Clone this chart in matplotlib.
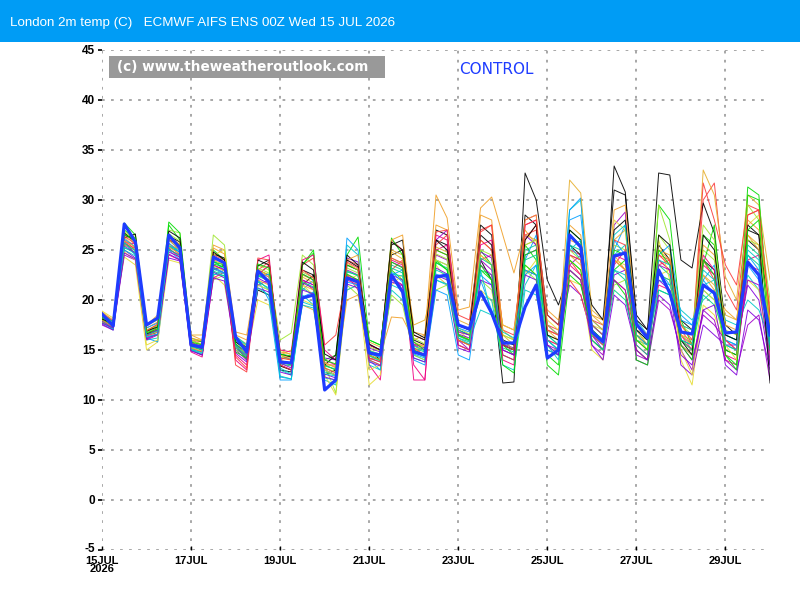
import matplotlib
matplotlib.use("Agg")
import matplotlib.pyplot as plt
from matplotlib.patches import Rectangle
from matplotlib.transforms import ScaledTranslation
import numpy as np

# ---------------- data ----------------
step_hours = 6
n_steps = 61
tick_days = [0, 2, 4, 6, 8, 10, 12, 14]
tick_labels = ["15JUL\n2026", "17JUL", "19JUL", "21JUL", "23JUL", "25JUL", "27JUL", "29JUL"]
y_ticks = [-5, 0, 5, 10, 15, 20, 25, 30, 35, 40, 45]

control = [18.6,17.4,27.6,25.8, 17.5,18.2,26.5,25.2, 15.5,15.3,24.3,23.7, 16.3,14.8,22.9,21.8,
           13.8,13.7,20.2,20.5, 11.0,12.0,22.2,21.8, 14.7,14.5,22.5,20.8, 14.8,14.5,22.3,22.5,
           17.5,17.1,20.8,18.7, 15.7,15.7,19.3,21.5, 14.2,15.0,26.5,25.3, 16.8,15.8,24.4,24.7,
           17.6,16.2,23.0,20.7, 16.8,16.6,21.5,20.7, 16.7,16.8,23.8,22.5, 16.5]

m01 = [18.0,17.5,26.5,26.0, 16.5,17.0,26.0,25.5, 15.5,15.0,23.0,23.5, 16.0,15.0,21.0,20.5, 13.0,12.8,21.5,22.5, 12.5,13.0,23.5,23.0, 15.0,14.0,24.5,25.0, 16.0,15.5,27.0,26.5, 17.0,16.5,24.0,22.0, 11.7,11.8,32.7,30.0, 22.0,19.5,23.0,22.0, 16.5,16.0,33.4,30.8, 18.5,17.0,25.5,24.0, 18.0,17.0,24.0,23.0, 15.0,14.5,26.0,25.0, 13.5]
m02 = [18.5,17.8,26.0,25.0, 16.8,17.5,25.5,24.5, 16.0,15.8,24.5,24.0, 15.5,14.5,22.5,23.5, 14.0,14.5,22.0,21.0, 13.5,13.5,24.0,23.5, 15.5,15.0,26.0,25.0, 16.5,16.0,25.0,24.5, 16.0,15.5,27.0,27.5, 17.0,16.5,26.5,27.0, 17.5,17.0,24.0,22.5, 18.0,17.5,22.0,21.0, 16.0,15.0,24.5,24.0, 16.0,15.0,30.0,31.7, 21.0,19.0,28.5,29.0, 17.5]
m03 = [17.8,17.2,27.7,26.5, 17.0,16.5,27.5,26.0, 15.0,14.5,25.0,24.0, 15.5,14.0,23.0,22.5, 14.5,14.0,23.5,24.7, 14.0,14.5,24.5,26.3, 16.0,15.5,23.0,22.0, 15.0,14.5,24.0,23.0, 16.0,15.5,25.0,23.5, 14.5,14.0,25.5,24.0, 16.0,15.0,27.0,26.0, 17.0,16.0,22.0,20.5, 15.0,14.0,29.5,28.0, 18.0,15.5,26.5,25.5, 15.0,14.5,31.3,30.5, 17.0]
m04 = [18.3,17.5,25.5,25.0, 16.0,16.2,26.0,25.0, 15.5,15.0,24.0,23.0, 16.0,15.0,22.0,21.0, 13.0,12.5,20.5,19.5, 12.0,11.5,25.5,24.5, 14.0,13.5,21.0,20.0, 14.5,14.0,22.0,21.5, 16.5,16.0,19.0,18.5, 16.0,15.0,21.5,23.5, 16.5,15.5,29.0,30.0, 17.5,16.5,24.5,25.5, 18.0,16.5,22.0,21.5, 19.0,18.0,20.0,21.0, 16.0,15.5,22.5,21.0, 17.0]
m05 = [18.0,17.3,26.0,24.5, 16.5,17.0,24.5,24.0, 16.0,15.5,23.5,23.0, 14.0,13.0,24.0,24.5, 13.5,13.0,22.0,21.5, 14.0,13.5,22.5,22.0, 13.5,12.0,24.0,23.5, 12.0,12.0,26.5,26.0, 15.5,15.0,24.0,24.5, 14.0,13.5,28.0,28.5, 15.0,14.5,25.0,24.5, 16.0,15.0,23.5,25.0, 16.5,15.5,21.5,21.0, 15.5,14.5,23.5,22.5, 14.0,13.5,24.0,24.5, 14.5]
m06 = [18.5,17.8,24.3,23.5, 15.0,15.8,24.0,23.7, 15.5,15.0,22.5,21.5, 15.5,14.5,20.0,19.5, 15.0,14.5,20.0,19.5, 12.5,10.5,21.0,21.5, 11.5,12.5,22.5,21.0, 15.0,14.5,23.5,22.0, 17.0,16.0,21.0,20.0, 16.5,16.0,22.5,24.0, 18.0,17.0,22.0,21.5, 17.5,17.0,24.0,23.5, 16.0,15.5,22.5,23.0, 14.0,11.5,19.5,18.5, 15.5,15.0,22.0,21.0, 14.0]
m07 = [18.2,17.5,25.5,25.0, 17.0,17.5,26.0,25.0, 16.5,16.0,25.5,25.0, 16.8,16.5,23.0,22.5, 14.5,15.0,19.5,19.0, 13.0,12.5,20.0,20.5, 14.0,14.5,18.3,18.2, 16.0,16.5,30.5,28.2, 19.0,19.3,29.2,30.3, 26.5,22.7,27.0,25.5, 19.0,18.0,26.0,25.5, 18.5,18.0,24.5,23.0, 17.0,16.5,25.0,24.0, 17.5,17.0,22.5,21.0, 19.0,18.0,26.5,25.0, 19.5]
m08 = [17.5,17.0,24.5,24.0, 16.0,16.5,25.0,24.5, 15.0,14.5,23.5,23.0, 15.0,14.0,21.5,22.0, 13.5,13.0,22.0,21.5, 13.0,12.5,23.0,22.5, 14.5,14.0,22.5,22.0, 15.5,15.0,24.5,24.0, 16.0,15.0,24.0,23.0, 15.5,15.0,24.5,25.0, 17.0,16.5,23.5,24.5, 17.0,16.0,27.5,28.8, 14.0,13.5,20.0,19.0, 15.0,13.0,19.0,18.0, 14.0,13.0,17.5,18.5, 12.0]
m09 = [17.8,17.2,26.5,26.5, 17.5,18.0,27.0,26.7, 16.0,15.5,22.0,22.5, 15.0,14.5,23.5,23.0, 16.0,16.7,24.5,23.5, 13.5,10.7,21.5,20.5, 15.0,14.5,20.5,19.5, 14.5,14.0,21.0,21.5, 15.5,15.0,22.0,21.0, 15.0,14.5,23.0,22.0, 15.0,14.5,24.0,23.0, 16.5,15.5,21.5,22.0, 16.5,16.0,29.5,26.0, 15.5,14.5,25.0,24.0, 16.5,16.0,26.0,25.5, 18.5]
m10 = [18.0,17.0,25.8,24.5, 16.2,15.8,25.0,24.0, 15.0,14.8,22.5,23.0, 15.5,14.5,22.0,20.0, 12.0,12.0,21.0,22.0, 13.0,12.5,26.2,25.0, 14.0,13.0,22.5,23.0, 14.0,13.5,21.0,20.5, 14.5,14.0,22.0,19.0, 16.0,15.5,24.0,26.5, 16.0,15.0,29.0,30.2, 16.5,15.5,25.0,27.5, 17.5,16.5,23.0,21.5, 18.0,17.5,22.0,23.5, 16.5,16.0,23.5,22.0, 15.0]
m11 = [18.8,18.0,26.8,25.5, 17.5,18.5,26.5,25.5, 16.5,16.5,24.0,23.5, 16.0,15.0,23.0,22.5, 14.5,14.0,21.5,21.0, 13.5,13.0,22.5,21.5, 14.5,14.0,25.0,24.5, 17.5,18.0,22.5,21.5, 17.5,17.0,26.0,25.0, 16.5,15.5,25.5,26.0, 16.0,15.5,32.0,30.7, 19.0,18.0,26.0,27.0, 17.0,15.5,24.0,23.0, 16.0,15.0,33.0,30.5, 22.3,20.0,30.5,29.5, 22.0]
m12 = [18.4,17.6,25.2,24.8, 16.8,17.2,25.3,24.8, 15.3,15.0,23.8,23.2, 15.2,14.2,21.8,21.2, 13.6,13.4,21.2,20.5, 12.8,12.5,22.8,22.5, 14.8,14.2,23.5,23.0, 15.2,14.8,24.0,23.5, 16.2,15.8,23.0,22.5, 15.2,14.8,25.0,25.5, 15.5,14.5,26.5,25.5, 17.5,16.5,23.0,22.0, 16.5,15.5,23.5,22.5, 16.5,15.5,21.0,20.0, 15.5,15.0,25.5,24.5, 16.0]
m13 = [17.6,17.0,25.0,24.2, 16.6,17.0,24.6,24.0, 15.8,15.2,22.8,22.2, 15.6,14.6,22.2,21.6, 14.2,14.2,22.6,22.0, 14.2,14.0,24.2,23.8, 15.2,14.8,22.2,21.5, 15.6,15.2,23.2,22.6, 16.6,16.2,24.8,24.2, 15.6,15.2,26.5,25.5, 17.5,16.5,21.5,20.5, 16.5,15.0,22.5,23.0, 17.5,16.5,22.0,21.0, 13.5,12.5,17.5,16.5, 15.5,15.5,21.5,20.0, 13.5]
m14 = [18.6,17.8,26.2,26.6, 16.6,17.2,26.4,25.8, 15.6,15.2,24.6,24.2, 16.2,15.2,23.4,24.0, 13.4,13.0,23.0,22.5, 13.5,14.5,24.5,23.5, 15.5,15.0,25.5,26.0, 16.5,16.0,26.0,25.5, 17.5,17.0,27.5,26.5, 16.0,15.5,28.5,27.5, 18.5,17.5,25.5,24.5, 19.5,18.0,31.0,30.5, 18.0,17.0,32.7,32.5, 24.0,23.2,29.7,26.7, 17.5,16.5,27.0,26.5, 18.5]
m15 = [18.2,17.4,25.6,25.2, 16.4,16.8,25.6,25.0, 15.2,14.8,24.0,24.0, 13.5,12.8,23.0,23.8, 13.5,13.0,23.5,24.2, 15.5,16.5,22.5,21.0, 14.0,13.5,23.0,24.0, 15.5,15.5,25.5,26.5, 18.5,18.0,26.0,25.0, 17.5,17.0,26.0,27.5, 18.5,17.5,22.0,20.5, 16.5,15.5,24.0,23.0, 15.0,14.0,23.5,24.0, 17.0,15.5,31.7,28.0, 23.5,21.5,29.5,29.0, 18.0]
m16 = [18.0,17.4,27.0,26.2, 16.9,17.4,27.8,26.7, 16.2,15.8,23.8,23.5, 14.8,14.2,22.5,22.0, 13.8,13.5,23.5,25.0, 13.5,13.0,23.5,23.0, 14.5,14.0,26.2,24.5, 15.0,14.5,25.0,24.5, 16.5,16.0,23.0,22.0, 15.5,14.5,24.5,25.0, 14.5,13.5,24.0,23.0, 16.0,15.0,23.0,24.0, 14.0,13.5,21.0,20.5, 16.0,15.5,23.5,27.5, 14.5,13.5,30.5,30.0, 16.5]
m17 = [17.7,17.1,25.0,24.4, 16.3,16.5,25.5,24.8, 15.0,14.6,22.6,22.4, 16.3,15.4,21.5,21.0, 13.2,12.6,19.5,19.2, 12.2,12.0,21.0,21.5, 13.5,13.0,21.5,21.0, 14.2,13.8,23.0,22.5, 17.0,16.5,20.5,20.0, 13.5,13.0,21.0,20.5, 15.5,14.0,25.5,24.0, 18.0,17.0,23.0,22.5, 16.0,15.5,21.0,20.5, 17.5,17.0,21.5,22.0, 18.0,17.5,20.0,19.0, 16.0]
m18 = [18.3,17.6,25.8,25.6, 16.5,16.5,25.2,24.2, 14.8,14.3,22.2,22.8, 14.5,13.5,22.6,23.4, 15.0,14.8,24.0,24.5, 15.0,14.0,22.0,21.5, 15.5,15.0,22.0,21.5, 13.5,12.0,25.0,25.5, 15.5,15.0,25.5,26.0, 14.5,14.0,27.5,28.0, 16.0,15.5,23.5,22.5, 17.0,16.0,24.5,24.0, 15.5,14.5,24.0,23.0, 16.5,15.0,24.5,23.0, 14.5,14.0,23.5,23.0, 15.5]
m19 = [18.9,18.2,24.8,24.0, 15.5,16.0,25.5,25.0, 16.0,16.0,24.5,25.0, 15.8,15.5,21.5,21.0, 14.5,14.2,21.5,20.5, 13.0,12.5,22.0,22.5, 13.0,13.5,21.5,22.5, 15.0,15.5,24.0,23.5, 16.0,15.5,24.5,23.5, 17.5,17.0,23.5,22.5, 16.5,16.0,23.0,22.0, 15.0,14.0,28.0,27.0, 16.5,15.0,26.0,22.0, 15.0,12.5,21.0,20.0, 15.5,14.0,27.5,28.5, 18.0]
m20 = [18.5,17.7,26.3,25.2, 17.2,17.8,26.2,25.6, 16.2,15.9,25.2,24.6, 16.5,16.0,22.0,21.5, 14.8,14.6,22.5,22.0, 13.8,13.2,24.0,24.5, 14.5,14.0,26.0,26.5, 16.8,16.5,27.5,27.0, 16.5,16.0,28.5,28.0, 17.0,16.0,28.0,28.5, 17.0,16.5,27.5,26.5, 18.0,17.0,29.0,29.5, 17.5,16.5,25.0,24.5, 16.5,16.0,25.5,24.5, 17.5,17.0,28.0,27.0, 19.0]
m21 = [17.9,17.3,25.4,24.7, 16.1,16.6,24.8,24.3, 15.4,15.1,23.2,22.7, 15.3,14.3,22.8,22.3, 13.7,13.2,21.7,21.2, 12.3,12.0,22.3,22.0, 14.2,13.8,23.8,23.3, 14.8,14.5,26.0,27.0, 16.8,16.5,23.5,22.5, 15.0,14.5,23.0,22.5, 15.5,15.0,24.5,24.0, 15.5,14.5,22.0,21.0, 14.5,14.0,23.5,23.0, 15.5,14.0,18.5,17.5, 16.0,15.0,22.0,21.5, 14.0]
m22 = [18.1,17.5,26.9,26.0, 17.0,17.4,26.6,25.9, 15.9,15.6,26.5,25.5, 15.3,14.7,23.2,22.7, 14.3,14.0,22.8,22.2, 13.2,12.8,23.2,22.7, 15.3,14.9,24.2,23.6, 16.2,15.6,24.6,24.1, 17.2,16.6,25.0,24.5, 16.5,16.0,25.5,26.0, 17.5,16.5,25.0,24.0, 16.5,16.0,25.5,25.0, 16.0,15.0,26.5,25.0, 17.5,16.5,27.5,26.0, 17.0,16.5,29.5,28.0, 20.0]
m23 = [18.4,17.7,26.1,25.3, 17.2,17.7,25.7,24.7, 15.7,15.3,23.3,22.7, 15.9,14.9,22.3,22.6, 12.3,12.1,20.3,20.8, 11.2,11.8,21.8,21.5, 14.6,14.3,22.8,21.8, 14.6,14.2,22.6,22.2, 17.2,16.8,22.5,21.5, 15.5,15.0,22.5,23.5, 15.0,14.5,28.0,28.5, 17.5,16.5,26.0,24.5, 17.0,16.0,24.5,25.5, 18.5,17.5,22.0,20.5, 16.0,15.5,24.5,23.0, 15.5]
m24 = [18.0,17.3,25.9,25.3, 16.7,17.2,25.3,24.6, 15.2,14.9,23.4,22.9, 16.3,15.6,22.9,22.3, 14.0,13.6,22.3,21.7, 13.7,13.3,23.7,23.0, 15.8,15.3,24.8,24.1, 15.8,15.3,25.3,24.8, 18.0,17.5,24.5,23.5, 16.0,15.0,26.5,26.0, 17.0,16.0,24.5,23.5, 18.5,17.5,24.0,23.0, 17.5,16.5,22.5,22.0, 16.5,15.5,22.5,21.5, 18.5,18.0,26.5,25.5, 17.5]
m25 = [18.2,17.5,25.7,24.9, 16.5,16.9,25.1,24.4, 15.4,15.0,22.9,22.4, 15.4,14.4,22.4,21.9, 13.9,13.6,21.8,21.3, 13.4,13.1,22.9,22.4, 14.4,13.9,23.2,22.7, 15.4,14.9,23.7,23.2, 16.4,15.9,24.2,23.5, 15.5,15.0,24.0,24.5, 16.5,15.5,25.5,25.0, 16.0,15.0,21.0,20.0, 15.5,14.5,22.5,22.0, 16.0,15.0,20.5,19.5, 16.5,16.0,24.5,23.5, 16.5]
m26 = [17.7,17.2,24.7,24.1, 16.2,16.6,24.2,23.9, 14.9,14.5,22.2,21.9, 14.7,13.8,21.2,20.8, 12.8,12.5,21.0,20.6, 12.6,12.2,21.6,21.2, 13.8,13.4,21.8,21.4, 14.2,13.8,22.5,22.0, 15.2,14.8,22.0,21.5, 15.0,14.5,22.5,22.0, 15.5,14.5,23.0,22.0, 15.5,14.0,20.5,19.5, 15.0,14.0,20.5,19.5, 14.5,13.5,19.0,19.5, 13.5,12.5,19.0,18.0, 13.0]
m27 = [18.1,17.6,26.7,25.8, 16.9,17.3,26.9,26.2, 15.6,15.2,24.8,24.0, 15.8,15.0,24.0,23.5, 14.6,14.3,23.8,23.0, 14.6,14.0,24.0,23.3, 15.6,15.0,25.8,25.0, 16.8,16.2,26.0,25.0, 17.5,17.0,26.5,25.5, 15.5,15.0,26.0,27.5, 16.5,16.0,27.0,26.0, 17.0,16.0,27.0,28.0, 17.0,16.0,26.5,25.5, 16.0,14.5,26.5,25.0, 16.5,16.0,27.5,26.5, 11.7]
m28 = [18.7,17.9,26.4,25.6, 16.9,17.6,26.1,25.3, 15.7,15.4,24.2,23.8, 14.3,13.2,24.2,24.0, 14.2,14.0,23.0,22.2, 13.2,12.7,23.8,23.2, 14.2,13.8,24.2,23.7, 15.2,14.5,26.8,27.0, 16.0,15.5,26.8,27.5, 15.5,15.0,27.5,28.0, 17.0,16.5,24.5,24.0, 17.5,16.5,26.0,25.5, 16.5,15.5,24.5,23.5, 17.5,16.0,24.0,22.0, 16.0,15.0,28.5,29.0, 18.5]
m29 = [18.3,17.6,26.6,25.9, 16.7,17.1,26.3,25.4, 15.8,15.5,23.6,23.3, 15.6,14.8,23.6,23.2, 14.6,14.4,22.6,22.0, 14.0,13.6,22.6,22.0, 16.0,15.5,23.8,23.2, 15.8,15.0,23.8,23.0, 16.5,16.0,23.5,22.0, 13.5,12.7,23.5,22.5, 13.5,12.5,22.5,21.5, 17.0,16.0,25.0,24.5, 16.0,15.0,25.0,23.5, 15.5,14.0,24.0,22.5, 14.5,13.0,27.0,28.0, 15.0]
m30 = [18.6,17.8,25.3,24.6, 16.3,16.6,25.4,25.0, 15.1,14.7,23.1,22.6, 16.4,15.5,21.2,20.5, 12.4,12.1,19.8,19.4, 12.6,12.4,22.2,21.8, 14.9,14.6,22.6,22.4, 14.8,14.3,22.0,21.6, 16.2,15.6,23.0,18.5, 16.8,16.2,23.0,22.5, 16.0,15.0,25.0,26.0, 17.0,16.0,26.5,27.5, 16.5,15.5,24.0,23.5, 16.0,15.5,23.0,22.0, 15.5,15.0,25.0,24.0, 15.5]

members = [m01, m02, m03, m04, m05, m06, m07, m08, m09, m10, m11, m12, m13, m14, m15,
           m16, m17, m18, m19, m20, m21, m22, m23, m24, m25, m26, m27, m28, m29, m30]

member_colors = ['#000000', '#fa3c3c', '#00dc00', '#00c8c8', '#f00082', '#e6dc32',
                 '#f0a028', '#a000c8', '#a0e632', '#00a0ff', '#e6af2d', '#00d28c', '#8200dc']

title_text = "London 2m temp (C)   ECMWF AIFS ENS 00Z Wed 15 JUL 2026"
watermark = "(c) www.theweatheroutlook.com"

# ---------------- figure ----------------
fig = plt.figure(figsize=(8, 6), dpi=100)
fig.patch.set_facecolor('white')

# title bar
fig.patches.append(Rectangle((0, 1 - 42/600), 1, 42/600, transform=fig.transFigure,
                             facecolor='#009cf5', edgecolor='none', zorder=0))
fig.text(10/800, 1 - 23/600, title_text, color='white', fontsize=9.6,
         family='Liberation Sans', va='center', ha='left')

ax = fig.add_axes([102/800, 50/600, 668/800, 500/600])
x = np.arange(n_steps) * step_hours / 24.0

for i, m in enumerate(members):
    ax.plot(x, m, color=member_colors[i % len(member_colors)], lw=0.7, alpha=0.9, zorder=2)
ax.plot(x, control, color='#1e3cff', lw=2.3, zorder=4)

ax.set_xlim(0, 15)
ax.set_ylim(-5, 45)
for s in ax.spines.values():
    s.set_visible(False)

grid_kw = dict(color='#a0a0a0', lw=1.3, linestyle=(0, (1.5, 3.5)), zorder=1)
for yv in y_ticks:
    ax.axhline(yv, **grid_kw)
for d in tick_days:
    ax.axvline(d, **grid_kw)

ax.set_yticks(y_ticks)
ax.set_yticklabels([str(v) for v in y_ticks], fontsize=8.5, fontweight='bold',
                   family='Liberation Sans')
ax.set_xticks(tick_days)
ax.set_xticklabels(tick_labels, fontsize=8, fontweight='bold',
                   family='Liberation Sans', linespacing=0.85)
ax.tick_params(axis='y', length=3, width=1.2, pad=2, color='black')
ax.tick_params(axis='x', length=3, width=1, pad=4, direction='in', color='black')

# lift the bottom y label slightly so it does not collide with the first date label
lbl = ax.get_yticklabels()[0]
lbl.set_transform(lbl.get_transform() + ScaledTranslation(0, 3/100, fig.dpi_scale_trans))

# watermark box
fig.patches.append(Rectangle((109/800, 1 - 78/600), 276/800, 22/600, transform=fig.transFigure,
                             facecolor='#999999', edgecolor='none', zorder=5))
fig.text(117/800, 1 - 67/600, watermark, color='white', fontsize=9.8, fontweight='bold',
         va='center', ha='left', zorder=6)
fig.text(459/800, 1 - 69/600, "CONTROL", color='#1e3cff', fontsize=11,
         va='center', ha='left')

fig.savefig('out.png', dpi=100)
